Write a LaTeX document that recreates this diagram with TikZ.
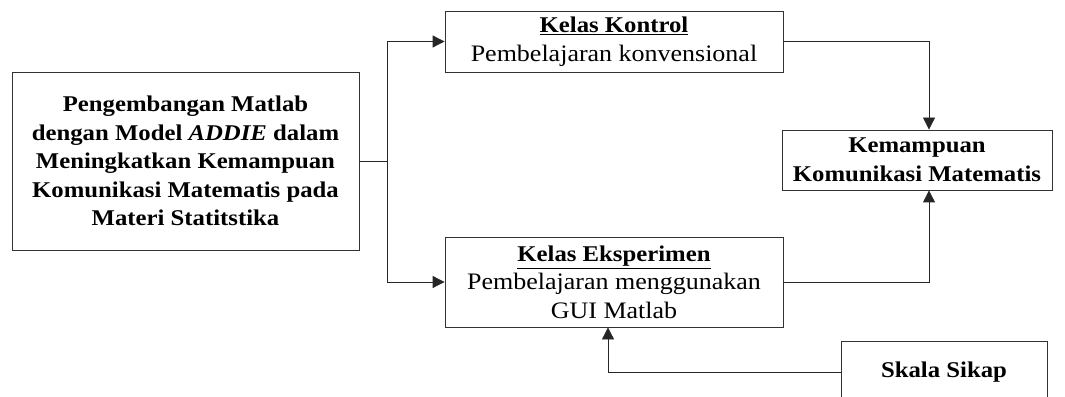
\documentclass[tikz,border=0pt]{standalone}
\usepackage{fontspec}
\setmainfont{Liberation Serif}[FakeStretch=1.1]
\usepackage{tikz}
\usetikzlibrary{calc,arrows.meta}
\tikzset{kotak/.style={draw=black!80, line width=0.6pt, align=center, inner sep=0pt,
           font=\fontsize{16.8}{20.3}\selectfont},
     kotak tebal/.style={kotak, font=\fontsize{16}{20.3}\selectfont\bfseries},
     panah/.style={draw=black!85, line width=0.6pt, -{Triangle[length=3mm,width=3mm]}},
     garis/.style={draw=black!85, line width=0.6pt}
     }
\def\Judul#1{{\fontsize{16}{20.3}\selectfont\textbf{\underline{#1}}}}

\begin{document}
\begin{tikzpicture}
\useasboundingbox (0,0) rectangle (26.625,9.9);
\clip (0,0) rectangle (26.625,9.9);
\node[kotak tebal, minimum width=8.675cm, minimum height=4.45cm] (Pengembangan) at (4.6375,5.875)
  {Pengembangan Matlab\\ dengan Model \textit{ADDIE} dalam\\ Meningkatkan Kemampuan\\
   Komunikasi Matematis pada\\ Materi Statitstika};
\node[kotak, minimum width=8.45cm, minimum height=1.525cm] (Kontrol) at (15.35,8.8625)
  {\Judul{Kelas Kontrol}\\ Pembelajaran konvensional};
\node[kotak, minimum width=8.45cm, minimum height=2.25cm] (Eksperimen) at (15.35,2.85)
  {\Judul{Kelas Eksperimen}\\ Pembelajaran menggunakan\\ GUI Matlab};
\node[kotak tebal, minimum width=6.75cm, minimum height=1.5cm] (Kemampuan) at (22.925,5.9)
  {Kemampuan\\ Komunikasi Matematis};
\node[kotak tebal, minimum width=5.15cm, minimum height=1.55cm] (Skala) at (23.6,0.6)
  {Skala Sikap};
\coordinate (Cabang) at ($(Pengembangan.east)+(0.7,0)$);
\draw[garis] (Pengembangan.east) -- (Cabang);
\draw[panah] (Cabang) |- (Kontrol.west);
\draw[panah] (Cabang) |- (Eksperimen.west);
\draw[panah] (Kontrol.east) -| ($(Kemampuan.north)+(0.3,0)$);
\draw[panah] (Eksperimen.east) -| ($(Kemampuan.south)+(0.3,0)$);
\draw[panah] (Skala.west) -| ($(Eksperimen.south)+(-0.15,0)$);
\end{tikzpicture}
\end{document}
